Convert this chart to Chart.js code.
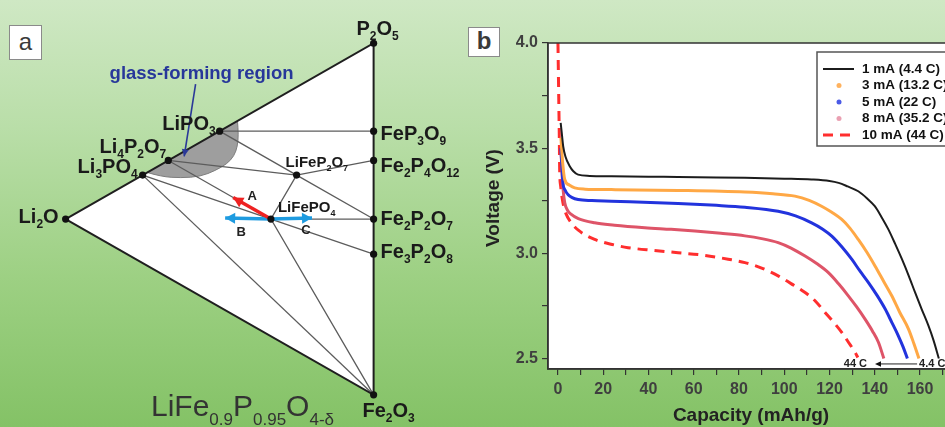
<!DOCTYPE html>
<html>
<head>
<meta charset="utf-8">
<script src="https://cdn.jsdelivr.net/npm/chart.js@4.4.1/dist/chart.umd.min.js"></script>
<style>
html,body{margin:0;padding:0;}
body{width:945px;height:427px;overflow:hidden;position:relative;
 background:linear-gradient(180deg,#cfe8c4 0%,#b9dea8 30%,#9dd083 65%,#84c266 100%);
 font-family:"Liberation Sans",Arial,sans-serif;}
canvas{position:absolute;top:0;}
#ca{left:0;}
#cb{left:470px;}
.tag{position:absolute;background:#fff;border:1.5px solid #8a8a8a;box-sizing:border-box;color:#3a3a3a;text-align:center;font-size:24px;}
</style>
</head>
<body>
<canvas id="ca" width="470" height="427"></canvas>
<canvas id="cb" width="500" height="427"></canvas>
<div class="tag" style="left:9px;top:25px;width:33px;height:35px;line-height:31px;">a</div>
<div class="tag" style="left:468px;top:27px;width:32px;height:30px;line-height:26px;font-weight:bold;">b</div>
<script>
const FONT = '"Liberation Sans", Arial, Helvetica, sans-serif';

/* ================= Panel (b) data: discharge curves ================= */
const xTickLabels = [0, 20, 40, 60, 80, 100, 120, 140, 160];
const yTickLabels = [2.5, 3.0, 3.5, 4.0];
const xAxisTitle = 'Capacity (mAh/g)';
const yAxisTitle = 'Voltage (V)';
const seriesNames = ['1 mA (4.4 C)', '3 mA (13.2 C)', '5 mA (22 C)', '8 mA (35.2 C)', '10 mA (44 C)'];

const cap_1mA  = [1.2, 1.8, 2.3, 3.3, 5.2, 6.8, 8.9, 14, 23.6, 40, 53, 70, 82.6, 100, 112, 120, 124, 128, 132.7, 136.5, 140, 143, 146, 149, 152, 155, 157.8, 160.7, 163.7, 166, 168.3];
const volt_1mA = [3.62, 3.56, 3.51, 3.46, 3.414, 3.39, 3.374, 3.368, 3.366, 3.364, 3.363, 3.361, 3.359, 3.355, 3.351, 3.344, 3.335, 3.318, 3.295, 3.262, 3.224, 3.172, 3.114, 3.045, 2.972, 2.893, 2.814, 2.735, 2.656, 2.585, 2.50];

const cap_3mA  = [1.3, 2.0, 3.0, 5.0, 7.4, 12, 23.6, 53, 82.6, 95, 104.7, 111, 116.5, 121, 125.4, 129, 132.7, 136.5, 140.1, 144, 147.5, 151, 154.9, 157.3, 159.5];
const volt_3mA = [3.55, 3.44, 3.351, 3.325, 3.311, 3.305, 3.303, 3.299, 3.291, 3.283, 3.272, 3.252, 3.224, 3.195, 3.161, 3.12, 3.066, 3.005, 2.94, 2.865, 2.798, 2.72, 2.64, 2.57, 2.50];

const cap_5mA  = [1.3, 1.7, 2.2, 3.2, 4.4, 6.3, 8.9, 15, 23.6, 53.1, 70, 82.6, 97.3, 105, 112.1, 117, 121, 125.5, 129.8, 133.5, 137.2, 141, 144.6, 147.5, 150.4, 152.5, 154.4];
const volt_5mA = [3.50, 3.42, 3.335, 3.30, 3.28, 3.265, 3.256, 3.251, 3.248, 3.237, 3.228, 3.219, 3.20, 3.178, 3.145, 3.115, 3.082, 3.03, 2.972, 2.915, 2.861, 2.80, 2.735, 2.672, 2.608, 2.555, 2.50];

const cap_8mA  = [1.3, 1.8, 2.3, 3.0, 4.2, 5.9, 9, 16.2, 25, 38.4, 50, 60.5, 72, 82.6, 90, 97.3, 103, 109.2, 114.5, 119.5, 124, 128.3, 132, 135.7, 139, 141.6, 144];
const volt_8mA = [3.50, 3.38, 3.30, 3.24, 3.205, 3.185, 3.165, 3.145, 3.134, 3.122, 3.114, 3.106, 3.095, 3.083, 3.07, 3.051, 3.025, 2.987, 2.95, 2.908, 2.855, 2.798, 2.745, 2.687, 2.63, 2.577, 2.50];

const cap_10mA  = [0, 0.2, 0.4, 0.6, 0.75, 1.2, 2.2, 3.5, 5.9, 9, 16.2, 24, 31, 42, 53.1, 65, 75.2, 82.6, 90, 97.3, 103, 109.2, 114, 118, 122, 125.4, 128.5, 131.3, 132.5];
const volt_10mA = [4.0, 3.85, 3.7, 3.55, 3.40, 3.32, 3.24, 3.19, 3.145, 3.11, 3.066, 3.042, 3.027, 3.014, 3.003, 2.99, 2.972, 2.956, 2.93, 2.893, 2.856, 2.814, 2.77, 2.719, 2.67, 2.624, 2.575, 2.529, 2.505];

const seriesCap  = [cap_1mA, cap_3mA, cap_5mA, cap_8mA, cap_10mA];
const seriesVolt = [volt_1mA, volt_3mA, volt_5mA, volt_8mA, volt_10mA];

const rateArrowLabels   = ['44 C', '4.4 C'];
const rateArrowCapacity = [140.1, 158.7];
const rateArrowVoltage  = 2.474;

/* ================= Panel (a) data: Li2O–P2O5–Fe2O3 ternary ================= */
const compoundNames = ['Li2O', 'P2O5', 'Fe2O3', 'LiPO3', 'Li4P2O7', 'Li3PO4', 'FeP3O9', 'Fe2P4O12', 'Fe2P2O7', 'Fe3P2O8', 'LiFePO4', 'LiFeP2O7'];
const fracLi2O  = [1, 0, 0, 0.5, 0.6667, 0.75, 0, 0, 0, 0, 0.3333, 0.25];
const fracP2O5  = [0, 1, 0, 0.5, 0.3333, 0.25, 0.75, 0.6667, 0.5, 0.4, 0.3333, 0.5];
const fracFe2O3 = [0, 0, 1, 0, 0, 0, 0.25, 0.3333, 0.5, 0.6, 0.3333, 0.25];

const triangleCorners = ['Li2O', 'P2O5', 'Fe2O3'];
const tieLines = [
  ['LiPO3', 'FeP3O9'],
  ['LiPO3', 'LiFeP2O7', 'Fe2P2O7'],
  ['Li4P2O7', 'LiFeP2O7', 'Fe2P4O12'],
  ['LiFeP2O7', 'LiFePO4', 'Fe2O3'],
  ['Li4P2O7', 'LiFePO4'],
  ['Li3PO4', 'LiFePO4', 'Fe3P2O8'],
  ['LiFePO4', 'Fe2P2O7'],
  ['Li3PO4', 'Fe2O3']
];

const glassLi2O = [0.735, 0.689, 0.626, 0.562, 0.514, 0.476, 0.453, 0.442, 0.439, 0.442];
const glassP2O5 = [0.265, 0.276, 0.304, 0.340, 0.381, 0.419, 0.453, 0.486, 0.521, 0.558];
const glassFe2O3 = [0, 0.035, 0.070, 0.098, 0.105, 0.105, 0.094, 0.072, 0.040, 0];
const glassLabel = 'glass-forming region';
const glassPointerLi2O = [0.578, 0.615];
const glassPointerP2O5 = [0.595, 0.371];
const glassPointerFe2O3 = [-0.173, 0.014];

const arrowNames  = ['A', 'B', 'C'];
const arrowStart  = 'LiFePO4';
const arrowEndLi2O  = [0.456, 0.482, 0.200];
const arrowEndP2O5  = [0.333, 0.262, 0.403];
const arrowEndFe2O3 = [0.211, 0.256, 0.397];

const formulaParts = [['LiFe', false], ['0.9', true], ['P', false], ['0.95', true], ['O', false], ['4-δ', true]];

/* ================= styles (not data) ================= */
const seriesStyle = [
  {color: '#1c1c1c', width: 2,   dash: [],      marker: 'line', markerColor: '#1c1c1c'},
  {color: '#ffa845', width: 3,   dash: [],      marker: 'dot',  markerColor: '#ffb25e'},
  {color: '#2233dd', width: 3,   dash: [],      marker: 'dot',  markerColor: '#4a5ae6'},
  {color: '#de5468', width: 3,   dash: [],      marker: 'dot',  markerColor: '#eaa0b2'},
  {color: '#ff2e2e', width: 3,   dash: [10, 7], marker: 'line', markerColor: '#ff2e2e'}
];
const labelStyle = {
  'P2O5':     {dx: 4,  dy: -8, align: 'center', size: 20},
  'LiPO3':    {dx: -4, dy: -1, align: 'right',  size: 20},
  'Li4P2O7':  {dx: -2, dy: -7, align: 'right',  size: 20},
  'Li3PO4':   {dx: -5, dy: -2, align: 'right',  size: 20},
  'Li2O':     {dx: -7, dy: 4,  align: 'right',  size: 20},
  'FeP3O9':   {dx: 7,  dy: 9,  align: 'left',   size: 20},
  'Fe2P4O12': {dx: 7,  dy: 12, align: 'left',   size: 20},
  'Fe2P2O7':  {dx: 7,  dy: 6,  align: 'left',   size: 20},
  'Fe3P2O8':  {dx: 7,  dy: 4,  align: 'left',   size: 20},
  'Fe2O3':    {dx: 15, dy: 22, align: 'center', size: 20},
  'LiFePO4':  {dx: 7,  dy: -7, align: 'left',   size: 15},
  'LiFeP2O7': {dx: -11, dy: -8, align: 'left',  size: 15}
};
const arrowStyle = [
  {color: '#ee2222', labelDx: 19,  labelDy: 2},
  {color: '#1e9be0', labelDx: 16,  labelDy: 18},
  {color: '#1e9be0', labelDx: -6,  labelDy: 16}
];

/* ================= helpers ================= */
function tern(L, P, F) { return {x: P + F, y: P - F}; }
function cpt(name) { const i = compoundNames.indexOf(name); return tern(fracLi2O[i], fracP2O5[i], fracFe2O3[i]); }

function drawChem(ctx, text, x, y, size, align, color, weight) {
  const runs = text.match(/\d+|[^\d]+/g);
  const sub = Math.round(size * 0.6);
  const fMain = weight + ' ' + size + 'px ' + FONT, fSub = weight + ' ' + sub + 'px ' + FONT;
  ctx.save();
  ctx.fillStyle = color; ctx.textAlign = 'left'; ctx.textBaseline = 'alphabetic';
  let w = 0;
  runs.forEach(r => { ctx.font = /\d/.test(r) ? fSub : fMain; w += ctx.measureText(r).width; });
  let cx = align === 'right' ? x - w : (align === 'center' ? x - w / 2 : x);
  runs.forEach(r => {
    const s = /\d/.test(r);
    ctx.font = s ? fSub : fMain;
    ctx.fillText(r, cx, s ? y + size * 0.25 : y);
    cx += ctx.measureText(r).width;
  });
  ctx.restore();
}
function arrowHead(ctx, x0, y0, x1, y1, len, half, color) {
  const a = Math.atan2(y1 - y0, x1 - x0);
  ctx.save(); ctx.translate(x1, y1); ctx.rotate(a);
  ctx.beginPath(); ctx.moveTo(0, 0); ctx.lineTo(-len, half); ctx.lineTo(-len, -half); ctx.closePath();
  ctx.fillStyle = color; ctx.fill(); ctx.restore();
}

/* ================= Panel (a) chart ================= */
const datasetsA = [];
tieLines.forEach(t => datasetsA.push({data: t.map(cpt), showLine: true, borderColor: '#5c5c5c', borderWidth: 1.3, pointRadius: 0, order: 3, clip: false}));
datasetsA.push({data: triangleCorners.concat([triangleCorners[0]]).map(cpt), showLine: true, borderColor: '#1f1f1f', borderWidth: 2, pointRadius: 0, order: 2, clip: false});
datasetsA.push({data: glassPointerLi2O.map((l, i) => tern(l, glassPointerP2O5[i], glassPointerFe2O3[i])), showLine: true, borderColor: '#2a3898', borderWidth: 1.6, pointRadius: 0, order: 1, clip: false, role: 'pointer'});
arrowNames.forEach((n, i) => datasetsA.push({
  data: [cpt(arrowStart), tern(arrowEndLi2O[i], arrowEndP2O5[i], arrowEndFe2O3[i])],
  showLine: true, borderColor: arrowStyle[i].color, borderWidth: 3.5, pointRadius: 0, order: 1, clip: false, role: 'arrow', idx: i
}));
datasetsA.push({data: compoundNames.map(cpt), showLine: false, pointRadius: 3.6, pointBackgroundColor: '#111', pointBorderColor: '#111', pointBorderWidth: 0, order: 0, clip: false});

const ternaryPlugin = {
  id: 'ternary',
  beforeDatasetsDraw(chart) {
    const ctx = chart.ctx, xs = chart.scales.x, ys = chart.scales.y;
    const px = p => [xs.getPixelForValue(p.x), ys.getPixelForValue(p.y)];
    ctx.save();
    ctx.beginPath();
    triangleCorners.map(cpt).map(px).forEach((q, i) => i ? ctx.lineTo(q[0], q[1]) : ctx.moveTo(q[0], q[1]));
    ctx.closePath(); ctx.fillStyle = '#ffffff'; ctx.fill();
    const g = glassLi2O.map((l, i) => px(tern(l, glassP2O5[i], glassFe2O3[i])));
    ctx.beginPath(); ctx.moveTo(g[0][0], g[0][1]);
    for (let i = 1; i < g.length - 1; i++) {
      const mx = (g[i][0] + g[i + 1][0]) / 2, my = (g[i][1] + g[i + 1][1]) / 2;
      ctx.quadraticCurveTo(g[i][0], g[i][1], mx, my);
    }
    ctx.lineTo(g[g.length - 1][0], g[g.length - 1][1]);
    ctx.closePath();
    ctx.fillStyle = '#9e9e9e'; ctx.fill();
    ctx.strokeStyle = '#7d7d7d'; ctx.lineWidth = 1; ctx.stroke();
    ctx.restore();
  },
  afterDatasetsDraw(chart) {
    const ctx = chart.ctx, xs = chart.scales.x, ys = chart.scales.y;
    const px = p => [xs.getPixelForValue(p.x), ys.getPixelForValue(p.y)];
    chart.data.datasets.forEach(ds => {
      if (ds.role === 'arrow' || ds.role === 'pointer') {
        const a = px(ds.data[0]), b = px(ds.data[1]);
        if (ds.role === 'arrow') arrowHead(ctx, a[0], a[1], b[0], b[1], 10, 5.5, ds.borderColor);
        else arrowHead(ctx, a[0], a[1], b[0], b[1], 7, 3.5, ds.borderColor);
        if (ds.role === 'arrow') {
          const st = arrowStyle[ds.idx];
          ctx.save(); ctx.font = 'bold 13px ' + FONT; ctx.fillStyle = '#222'; ctx.textAlign = 'center'; ctx.textBaseline = 'alphabetic';
          ctx.fillText(arrowNames[ds.idx], b[0] + st.labelDx, b[1] + st.labelDy); ctx.restore();
        }
      }
    });
    compoundNames.forEach(n => {
      const p = px(cpt(n)), s = labelStyle[n];
      drawChem(ctx, n, p[0] + s.dx, p[1] + s.dy, s.size, s.align, '#1a1a1a', 'bold');
    });
    const gp = px({x: 0.4414, y: 0.7993});
    ctx.save(); ctx.font = 'bold 18.5px ' + FONT; ctx.fillStyle = '#27379a'; ctx.textAlign = 'center'; ctx.textBaseline = 'alphabetic';
    ctx.fillText(glassLabel, gp[0], gp[1]); ctx.restore();
    ctx.save(); ctx.fillStyle = '#333'; ctx.textAlign = 'left'; ctx.textBaseline = 'alphabetic';
    let fx = 151;
    formulaParts.forEach(([t, sub]) => {
      ctx.font = (sub ? '17px ' : '30px ') + FONT;
      ctx.fillText(t, fx, sub ? 425 : 416);
      fx += ctx.measureText(t).width;
    });
    ctx.restore();
  }
};

new Chart(document.getElementById('ca'), {
  type: 'scatter',
  data: {datasets: datasetsA},
  options: {
    responsive: false, animation: false, devicePixelRatio: 1, events: [],
    layout: {padding: 0},
    plugins: {legend: {display: false}, tooltip: {enabled: false}},
    scales: {
      x: {type: 'linear', display: false, min: -0.2001, max: 1.3},
      y: {type: 'linear', display: false, min: -1.1602, max: 1.2233}
    }
  },
  plugins: [ternaryPlugin]
});

/* ================= Panel (b) chart ================= */
const datasetsB = seriesNames.map((name, i) => ({
  label: name,
  data: seriesCap[i].map((c, k) => ({x: c, y: seriesVolt[i][k]})),
  showLine: true, fill: false,
  borderColor: seriesStyle[i].color, borderWidth: seriesStyle[i].width, borderDash: seriesStyle[i].dash,
  pointRadius: 0, cubicInterpolationMode: 'monotone'
}));

const frameLegendPlugin = {
  id: 'frameLegend',
  beforeDraw(chart) {
    const {ctx, chartArea: a} = chart;
    ctx.save(); ctx.fillStyle = '#ffffff'; ctx.fillRect(a.left, a.top, a.right - a.left, a.bottom - a.top); ctx.restore();
  },
  afterDraw(chart) {
    const {ctx, chartArea: a} = chart;
    const xs = chart.scales.x, ys = chart.scales.y;
    ctx.save();
    ctx.strokeStyle = '#333'; ctx.lineWidth = 1.5;
    ctx.strokeRect(a.left, a.top, a.right - a.left, a.bottom - a.top);
    // y-axis title (rotated)
    ctx.save();
    ctx.translate(24, 198); ctx.rotate(-Math.PI / 2);
    ctx.fillStyle = '#222'; ctx.font = 'bold 19px ' + FONT; ctx.textAlign = 'center'; ctx.textBaseline = 'middle';
    ctx.fillText(yAxisTitle, 0, 0);
    ctx.restore();
    // legend
    const lx = a.left + 269, ly = a.top + 9, lw = 175, lh = 94;
    ctx.fillStyle = '#fff'; ctx.fillRect(lx, ly, lw, lh);
    ctx.strokeStyle = '#555'; ctx.lineWidth = 1.5; ctx.strokeRect(lx, ly, lw, lh);
    seriesNames.forEach((n, i) => {
      const cy = ly + 17 + i * 16.5, st = seriesStyle[i];
      if (st.marker === 'line') {
        ctx.beginPath(); ctx.setLineDash(st.dash);
        ctx.strokeStyle = st.markerColor; ctx.lineWidth = st.width;
        ctx.moveTo(lx + 6, cy); ctx.lineTo(lx + (st.dash.length ? 33 : 37), cy); ctx.stroke(); ctx.setLineDash([]);
      } else {
        ctx.beginPath(); ctx.fillStyle = st.markerColor; ctx.arc(lx + 22, cy, 2.5, 0, Math.PI * 2); ctx.fill();
      }
      ctx.fillStyle = '#111'; ctx.font = 'bold 13.5px ' + FONT; ctx.textAlign = 'left'; ctx.textBaseline = 'middle';
      ctx.fillText(n, lx + 45, cy);
    });
    // rate annotation
    const x0 = xs.getPixelForValue(rateArrowCapacity[0]), x1 = xs.getPixelForValue(rateArrowCapacity[1]);
    const yv = ys.getPixelForValue(rateArrowVoltage);
    ctx.strokeStyle = '#222'; ctx.lineWidth = 1;
    ctx.beginPath(); ctx.moveTo(x0 + 3, yv); ctx.lineTo(x1, yv); ctx.stroke();
    arrowHead(ctx, x1, yv, x0, yv, 6, 2.8, '#111');
    ctx.fillStyle = '#222'; ctx.font = 'bold 11px ' + FONT; ctx.textBaseline = 'middle';
    ctx.textAlign = 'right'; ctx.fillText(rateArrowLabels[0], x0 - 8, yv);
    ctx.textAlign = 'left'; ctx.fillText(rateArrowLabels[1], x1 + 2, yv);
    ctx.restore();
  }
};

const tickFont = {family: FONT, size: 16, weight: 'bold'};
new Chart(document.getElementById('cb'), {
  type: 'scatter',
  data: {datasets: datasetsB},
  options: {
    responsive: false, animation: false, devicePixelRatio: 1, events: [],
    layout: {padding: {top: 43, right: 16, left: 0, bottom: 0}},
    plugins: {legend: {display: false}, tooltip: {enabled: false}},
    scales: {
      x: {
        type: 'linear', min: -4.4, max: 175,
        afterFit(s) { s.height = 58; },
        ticks: {stepSize: 10, includeBounds: false, autoSkip: false, maxRotation: 0, minRotation: 0, padding: 5, color: '#3f3f3f', font: tickFont,
                callback: v => xTickLabels.includes(v) ? String(v) : ''},
        grid: {drawOnChartArea: false, drawTicks: true, tickLength: 6, color: '#333', lineWidth: 1.2},
        border: {display: true, color: '#333', width: 1.5},
        title: {display: true, text: xAxisTitle, color: '#222', font: {family: FONT, size: 19, weight: 'bold'}, padding: {top: 0, bottom: 0}}
      },
      y: {
        type: 'linear', min: 2.45, max: 4.0,
        afterFit(s) { s.width = 78; },
        ticks: {stepSize: 0.25, includeBounds: false, autoSkip: false, padding: 4, color: '#3f3f3f', font: tickFont,
                callback: v => yTickLabels.some(t => Math.abs(t - v) < 1e-6) ? v.toFixed(1) : ''},
        grid: {drawOnChartArea: false, drawTicks: true, tickLength: 6, color: '#333', lineWidth: 1.2},
        border: {display: true, color: '#333', width: 1.5},
        title: {display: false}
      }
    }
  },
  plugins: [frameLegendPlugin]
});
</script>
</body>
</html>
